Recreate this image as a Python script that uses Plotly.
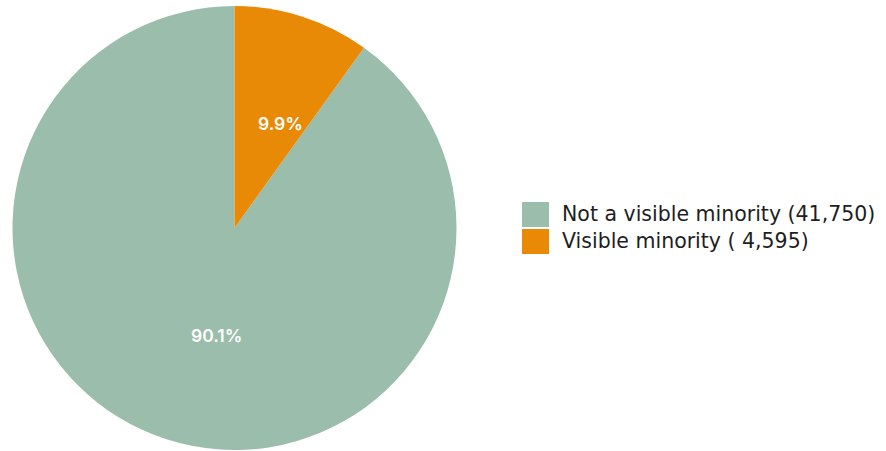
import math
import plotly.graph_objects as go

# Population counts by visible minority status
categories = ["Not a visible minority", "Visible minority"]
counts = [41750, 4595]
count_labels = ["41,750", " 4,595"]
colors = ["#9BBDAB", "#E98A07"]

W, H = 886, 451
FONT = "DejaVu Sans, Arial, sans-serif"
LABEL_FONT = "Inter, Arial, sans-serif"

# pie geometry in pixels
CX, CY, R = 234.5, 228.0, 222.0

total = sum(counts)
shares = [c / total for c in counts]
# start the first slice so the second one begins at 12 o'clock
rotation = shares[1] * 360

fig = go.Figure(
    go.Pie(
        labels=categories,
        values=counts,
        sort=False,
        direction="clockwise",
        rotation=rotation,
        marker=dict(colors=colors, line=dict(width=0)),
        textinfo="none",
        hoverinfo="label+value+percent",
        showlegend=False,
        domain=dict(x=[(CX - R) / W, (CX + R) / W],
                    y=[1 - (CY + R) / H, 1 - (CY - R) / H]),
    )
)

# percentage labels placed along each slice's mid-angle
label_nudge_deg = [-8.2, 6.1]
label_radius = [0.49, 0.516]
annotations = []
start = rotation
for i, s in enumerate(shares):
    mid = start + s * 360 / 2 + label_nudge_deg[i]
    start += s * 360
    a = math.radians(mid)
    px = CX + label_radius[i] * R * math.sin(a)
    py = CY - label_radius[i] * R * math.cos(a)
    annotations.append(dict(
        xref="paper", yref="paper", x=px / W, y=1 - py / H,
        xanchor="center", yanchor="middle", showarrow=False,
        text=f"{s * 100:.1f}%",
        font=dict(family=LABEL_FONT, size=17.5, color="white", weight=600),
    ))

# legend drawn as swatches + labels
shapes = []
sw_x0, sw_x1 = 522, 549
row_top = [202, 229]
for i, (cat, lab, col) in enumerate(zip(categories, count_labels, colors)):
    y0 = row_top[i]
    shapes.append(dict(
        type="rect", xref="paper", yref="paper",
        x0=sw_x0 / W, x1=sw_x1 / W, y0=1 - (y0 + 25) / H, y1=1 - y0 / H,
        fillcolor=col, line=dict(width=0),
    ))
    annotations.append(dict(
        xref="paper", yref="paper", x=560 / W, y=1 - (y0 + 12) / H,
        xanchor="left", yanchor="middle", showarrow=False,
        text=f"{cat} ({lab})",
        font=dict(family=FONT, size=20.5, color="#1e1e1e"),
    ))

fig.update_layout(
    width=W, height=H,
    margin=dict(l=0, r=0, t=0, b=0),
    paper_bgcolor="white",
    plot_bgcolor="white",
    shapes=shapes,
    annotations=annotations,
)

fig.write_html("out.html")
